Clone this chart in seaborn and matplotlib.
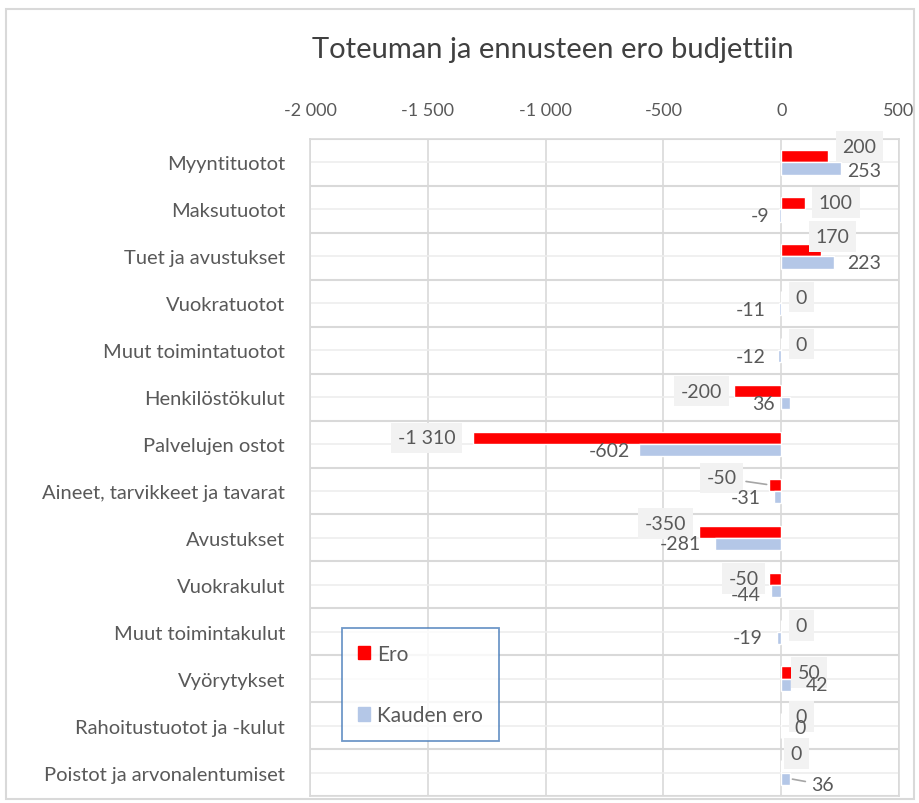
import pandas as pd
import numpy as np
import matplotlib
matplotlib.use("Agg")
import matplotlib.pyplot as plt
import matplotlib.patches as mpatches
import seaborn as sns

categories = [
    "Myyntituotot", "Maksutuotot", "Tuet ja avustukset", "Vuokratuotot",
    "Muut toimintatuotot", "Henkilöstökulut", "Palvelujen ostot",
    "Aineet, tarvikkeet ja tavarat", "Avustukset", "Vuokrakulut",
    "Muut toimintakulut", "Vyörytykset", "Rahoitustuotot ja -kulut",
    "Poistot ja arvonalentumiset",
]
ero = [200, 100, 170, 0, 0, -200, -1310, -50, -350, -50, 0, 50, 0, 0]
kauden_ero = [253, -9, 223, -11, -12, 36, -602, -31, -281, -44, -19, 42, 0, 36]
series = ["Ero", "Kauden ero"]
xticks = [-2000, -1500, -1000, -500, 0, 500]

# label offsets in pixels (dx, dy) from bar end
ero_off = [(31, 10), (31, 1), (11, 14), (20, 0), (20, 0), (-33, 0), (-46, 0),
           (-48, 7), (-33, 8), (-26, 0), (20, 0), (16, 0), (20, 3), (15, 13)]
kau_off = [(23, -2), (-19, 0), (30, 0), (-28, 0), (-28, 0), (-26, 0), (-30, 0),
           (-28, 0), (-35, 0), (-25, -4), (-29, 0), (26, 0), (19, 4), (33, -6)]
leader = {("Ero", 7), ("Kauden ero", 13)}

df = pd.DataFrame({
    "kategoria": categories * 2,
    "sarja": [series[0]] * len(categories) + [series[1]] * len(categories),
    "arvo": ero + kauden_ero,
})

sns.set_style("white")
plt.rcParams["font.family"] = ["Lato", "DejaVu Sans"]
txt = "#595959"
grid = "#d9d9d9"

fig = plt.figure(figsize=(9.2, 8.04), dpi=100)
ax = fig.add_axes([310 / 920, 1 - 797 / 804, 589 / 920, 657 / 804])

sns.barplot(data=df, y="kategoria", x="arvo", hue="sarja", orient="h",
            palette=["#ff0000", "#b4c7e7"], width=0.52, saturation=1,
            order=categories, hue_order=series, ax=ax, legend=False)

n = len(categories)
ax.set_ylim(n - 0.5, -0.5)
ax.set_xlim(-2000, 500)
ax.set_xticks(xticks)
ax.set_xticklabels([f"{v:,}".replace(",", " ") for v in xticks])
ax.xaxis.tick_top()
ax.tick_params(axis="x", length=0, pad=15, labelsize=13, labelcolor=txt)
ax.tick_params(axis="y", length=0, pad=18, labelsize=14.5, labelcolor=txt)
ax.set_xlabel("")
ax.set_ylabel("")
for v in xticks:
    ax.axvline(v, color=grid, lw=1.2, zorder=0)
for i in range(n + 1):
    ax.axhline(i - 0.5, color=grid, lw=1.5, zorder=0)
for i in range(n):
    ax.axhline(i, color="#ededed", lw=1.2, zorder=0)
for s in ax.spines.values():
    s.set_color(grid)
    s.set_linewidth(1.2)

offsets = {"Ero": ero_off, "Kauden ero": kau_off}
for name, cont in zip(series, ax.containers):
    for i, bar in enumerate(cont):
        val = bar.get_width()
        yc = bar.get_y() + bar.get_height() / 2
        dx, dy = offsets[name][i]
        kw = dict(textcoords="offset pixels", ha="center", va="center",
                  fontsize=14, color=txt, zorder=5)
        if name == "Ero":
            kw["bbox"] = dict(boxstyle="square,pad=0.35", fc="#f2f2f2", ec="none")
        if (name, i) in leader:
            kw["arrowprops"] = dict(arrowstyle="-", color="#a6a6a6", lw=1.2,
                                    shrinkA=2, shrinkB=2)
        ax.annotate(f"{val:,.0f}".replace(",", " "), xy=(val, yc),
                    xytext=(dx, dy), **kw)

handles = [mpatches.Patch(color="#ff0000", label="Ero"),
           mpatches.Patch(color="#b4c7e7", label="Kauden ero")]
leg = ax.legend(handles=handles, loc="lower left",
                bbox_to_anchor=(32 / 589, (797 - 742) / 657),
                fontsize=15, labelcolor=txt, frameon=True, fancybox=False,
                handlelength=0.6, handleheight=0.6, handletextpad=0.35,
                labelspacing=2.0, borderpad=0.75, borderaxespad=0)
leg.get_frame().set_edgecolor("#4a7ebb")
leg.get_frame().set_linewidth(1.3)

fig.text(553 / 920, 1 - 50 / 804, "Toteuman ja ennusteen ero budjettiin",
         ha="center", va="center", fontsize=21, color="#404040")

fig.patches.append(mpatches.Rectangle((6 / 920, 4 / 804), 908 / 920, 790 / 804,
                                      transform=fig.transFigure, fill=False,
                                      ec="#d9d9d9", lw=1.5))

fig.savefig("out.png", dpi=100)
